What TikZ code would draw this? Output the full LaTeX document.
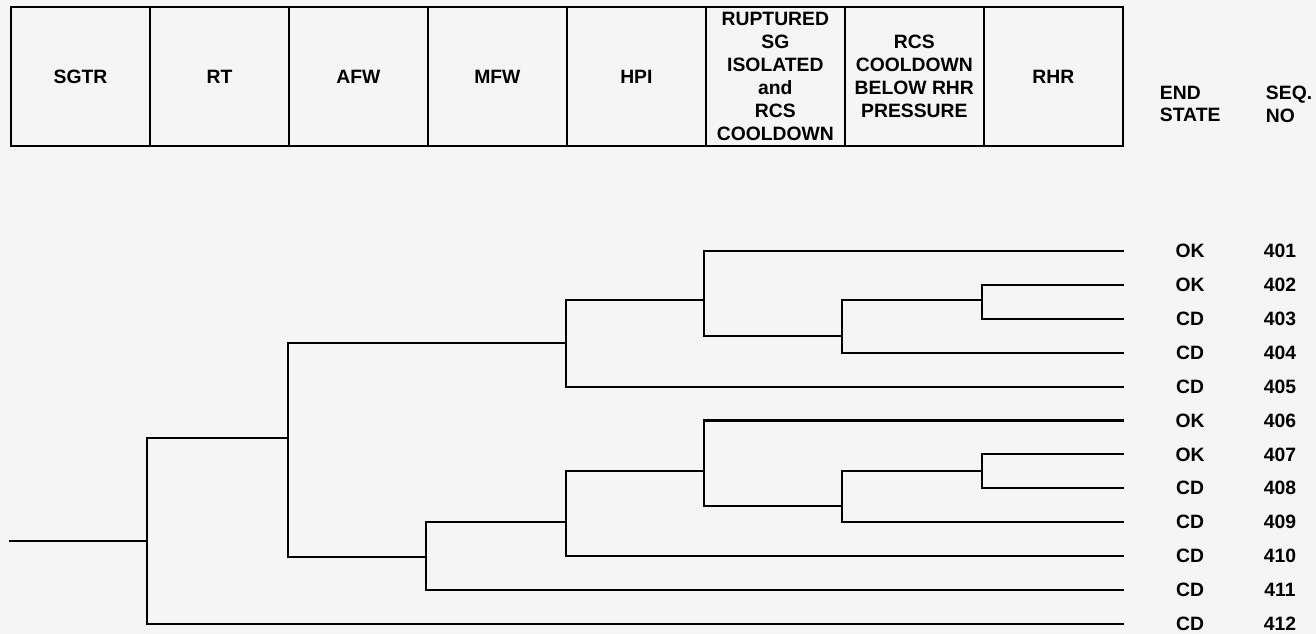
\documentclass[tikz,border=0pt]{standalone}
\usepackage{fontspec}
\setmainfont{Liberation Sans}
\usetikzlibrary{positioning}
\definecolor{paper}{HTML}{F5F5F5}
\newcommand{\etfont}{\fontsize{11}{13}\selectfont\bfseries}

\begin{document}
\begin{tikzpicture}[x=0.02cm,y=-0.02cm,line width=1.1pt,font=\etfont,
  hcell/.style={draw,minimum width=2.78cm,minimum height=2.78cm,inner sep=0pt,outer sep=0pt,align=center},
  br/.style={line width=1.2pt}]
% ---------- page ----------
\fill[paper] (0,0) rectangle (1316,634);
\useasboundingbox (0,0) rectangle (1316,634);
% ---------- header: top events ----------
\node[hcell,anchor=north west] (sgtr) at (11,7) {SGTR};
\node[hcell,right=0pt of sgtr] (rt) {RT};
\node[hcell,right=0pt of rt] (afw) {AFW};
\node[hcell,right=0pt of afw] (mfw) {MFW};
\node[hcell,right=0pt of mfw] (hpi) {HPI};
\node[hcell,right=0pt of hpi] (rupt) {RUPTURED\\SG\\ISOLATED\\and\\RCS\\COOLDOWN};
\node[hcell,right=0pt of rupt] (cool) {RCS\\COOLDOWN\\BELOW RHR\\PRESSURE};
\node[hcell,right=0pt of cool] (rhr) {RHR};
\node[align=left,anchor=west,inner sep=0pt] (endst) at (1159,104) {END\\STATE};
\node[align=left,anchor=west,inner sep=0pt] (seqno) at (1265,104) {SEQ.\\NO};
% ---------- sequence ends ----------
\foreach \s [count=\i] in {OK,OK,CD,CD,CD,OK,OK,CD,CD,CD,CD,CD}{
  \pgfmathsetmacro\ry{251+33.9*(\i-1)}
  \pgfmathtruncatemacro\sq{400+\i}
  \coordinate (e\i) at (1124,\ry);
  \node (st\i) at (1190,\ry) {\s};
  \node (sq\i) at (1280,\ry) {\sq};}
% ---------- branch points ----------
\coordinate (init) at (9,541);
\coordinate (A) at (147,541);
\coordinate (B) at (288,438);
\coordinate (D1) at (566,343);
\coordinate (E1) at (704,300);
\coordinate (F1) at (842,336);
\coordinate (G1) at (982,300);
\coordinate (C) at (426,557);
\coordinate (D2) at (566,522);
\coordinate (E2) at (704,471);
\coordinate (F2) at (842,506);
\coordinate (G2) at (982,471);
% ---------- tree ----------
\draw[br] (init) -- (A);
\draw[br] (A) |- (B);  \draw[br] (A) |- (e12);
\draw[br] (B) |- (D1); \draw[br] (B) |- (C);
\draw[br] (D1) |- (E1); \draw[br] (D1) |- (e5);
\draw[br] (E1) |- (e1); \draw[br] (E1) |- (F1);
\draw[br] (F1) |- (G1); \draw[br] (F1) |- (e4);
\draw[br] (G1) |- (e2); \draw[br] (G1) |- (e3);
\draw[br] (C) |- (D2); \draw[br] (C) |- (e11);
\draw[br] (D2) |- (E2); \draw[br] (D2) |- (e10);
\draw[br] (E2) |- (e6); \draw[br] (E2) |- (F2);
\draw[br] (F2) |- (G2); \draw[br] (F2) |- (e9);
\draw[br] (G2) |- (e7); \draw[br] (G2) |- (e8);
\end{tikzpicture}
\end{document}
